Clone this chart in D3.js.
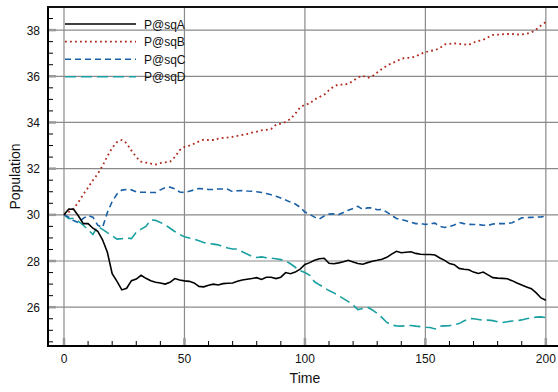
<!DOCTYPE html>
<html><head><meta charset="utf-8">
<script src="https://cdn.jsdelivr.net/npm/d3@7"></script>
<style>body{margin:0;background:#fff;} svg{display:block;font-family:"Liberation Sans",Arial,sans-serif;}</style>
</head><body><svg id="c" width="558" height="392"></svg>
<script>
const time = d3.range(0, 201, 2);
const seriesNames = ["P@sqA", "P@sqB", "P@sqC", "P@sqD"];
const sqA = [30.0,30.25,30.24,29.95,29.62,29.62,29.42,29.29,28.92,28.38,27.45,27.12,26.75,26.82,27.15,27.22,27.38,27.25,27.15,27.08,27.05,27.0,27.08,27.24,27.18,27.14,27.12,27.05,26.9,26.88,26.95,27.0,26.96,27.02,27.04,27.05,27.12,27.18,27.21,27.24,27.28,27.2,27.3,27.3,27.24,27.3,27.5,27.45,27.52,27.65,27.85,27.93,28.03,28.1,28.12,27.9,27.88,27.92,27.97,28.03,27.96,27.89,27.86,27.93,27.99,28.03,28.08,28.16,28.3,28.42,28.36,28.38,28.4,28.33,28.29,28.28,28.28,28.26,28.13,28.03,27.89,27.84,27.68,27.64,27.62,27.52,27.46,27.52,27.4,27.28,27.26,27.25,27.23,27.15,27.05,26.96,26.88,26.8,26.62,26.4,26.3];
const sqB = [30.0,30.12,30.27,30.55,30.88,31.18,31.5,31.77,32.12,32.54,32.9,33.15,33.24,33.1,32.78,32.5,32.3,32.26,32.22,32.18,32.24,32.27,32.3,32.5,32.8,32.94,33.0,33.08,33.18,33.26,33.24,33.24,33.3,33.33,33.35,33.38,33.42,33.46,33.5,33.56,33.6,33.66,33.68,33.72,33.9,33.95,34.02,34.15,34.38,34.65,34.77,34.82,35.0,35.1,35.2,35.4,35.56,35.65,35.63,35.68,35.8,35.95,36.02,35.93,36.0,36.16,36.32,36.46,36.56,36.65,36.76,36.8,36.8,36.86,36.97,37.04,37.1,37.13,37.22,37.38,37.4,37.43,37.4,37.38,37.36,37.46,37.53,37.58,37.69,37.79,37.8,37.82,37.83,37.83,37.81,37.81,37.84,37.9,38.03,38.2,38.35];
const sqC = [30.0,29.9,29.75,29.66,29.85,29.97,29.9,29.55,29.45,30.1,30.58,30.9,31.07,31.1,31.08,31.0,30.98,30.98,30.97,30.97,31.08,31.18,31.2,31.13,30.99,30.97,31.02,31.08,31.14,31.12,31.1,31.1,31.12,31.12,31.11,31.0,31.04,31.05,31.03,31.02,31.0,30.97,30.92,30.87,30.8,30.73,30.64,30.55,30.47,30.33,30.12,30.02,29.9,29.82,29.95,30.03,30.04,30.01,30.1,30.2,30.28,30.37,30.23,30.3,30.3,30.22,30.23,30.12,29.98,29.84,29.8,29.74,29.68,29.62,29.62,29.58,29.62,29.64,29.5,29.45,29.5,29.56,29.67,29.62,29.59,29.58,29.58,29.55,29.54,29.6,29.62,29.62,29.62,29.66,29.76,29.87,29.88,29.89,29.9,29.91,29.94];
const sqD = [30.0,29.83,29.85,29.72,29.55,29.35,29.15,29.5,29.37,29.23,29.1,28.95,28.97,29.0,28.97,29.25,29.38,29.5,29.78,29.76,29.67,29.57,29.42,29.28,29.15,29.05,29.0,28.95,28.88,28.8,28.76,28.73,28.7,28.62,28.56,28.52,28.52,28.4,28.3,28.2,28.15,28.18,28.14,28.12,28.1,28.06,28.0,27.88,27.73,27.58,27.5,27.38,27.1,26.97,26.85,26.72,26.62,26.5,26.37,26.24,26.1,25.9,25.94,26.0,25.88,25.73,25.55,25.34,25.23,25.19,25.18,25.2,25.21,25.18,25.16,25.13,25.12,25.06,25.18,25.19,25.2,25.24,25.29,25.4,25.51,25.5,25.47,25.44,25.44,25.42,25.37,25.34,25.37,25.4,25.41,25.45,25.5,25.54,25.57,25.58,25.55];
const xTicks = [0, 50, 100, 150, 200];
const yTicks = [26, 28, 30, 32, 34, 36, 38];
const xLabel = "Time", yLabel = "Population";

const svg = d3.select("#c");
const L = 48, R = 558, T = 7, B = 346;
const x = d3.scaleLinear().domain([-6.64, 205.05]).range([L, R]);
const y = d3.scaleLinear().domain([24.32, 39.0]).range([B, T]);

// grid
const g = svg.append("g");
g.selectAll(".vg").data(xTicks).join("line")
  .attr("x1", d => x(d)).attr("x2", d => x(d)).attr("y1", T).attr("y2", B)
  .attr("stroke", "#8a8a8a").attr("stroke-width", 1.2);
g.selectAll(".hg").data(yTicks).join("line")
  .attr("x1", L).attr("x2", R).attr("y1", d => y(d)).attr("y2", d => y(d))
  .attr("stroke", "#8a8a8a").attr("stroke-width", 1.2);

// series
const styles = [
  {data: sqA, color: "#000000", dash: null, w: 1.6},
  {data: sqB, color: "#b02a1e", dash: "1.8,3.2", w: 1.8},
  {data: sqC, color: "#1a60a6", dash: "6,4", w: 1.6},
  {data: sqD, color: "#1aa0a0", dash: "11,5", w: 1.6}
];
const line = d3.line().x((d, i) => x(time[i])).y(d => y(d));
styles.slice().reverse().forEach(s => {
  svg.append("path").attr("d", line(s.data)).attr("fill", "none")
    .attr("stroke", s.color).attr("stroke-width", s.w)
    .attr("stroke-dasharray", s.dash);
});

// axes with custom ticks
const ax = svg.append("g");
// minor y ticks
const yMinor = d3.range(24.5, 39.01, 0.5).filter(v => !yTicks.includes(v));
ax.selectAll(".ym").data(yMinor).join("line")
  .attr("x1", L).attr("x2", L + 5).attr("y1", d => y(d)).attr("y2", d => y(d))
  .attr("stroke", "#000").attr("stroke-width", 1);
ax.selectAll(".yM").data(yTicks).join("line")
  .attr("x1", L).attr("x2", L + 8).attr("y1", d => y(d)).attr("y2", d => y(d))
  .attr("stroke", "#999").attr("stroke-width", 2.5);
const xMinor = d3.range(10, 205, 10).filter(v => !xTicks.includes(v));
ax.selectAll(".xm").data(xMinor).join("line")
  .attr("x1", d => x(d)).attr("x2", d => x(d)).attr("y1", B).attr("y2", B - 5)
  .attr("stroke", "#000").attr("stroke-width", 1);
ax.selectAll(".xM").data(xTicks).join("line")
  .attr("x1", d => x(d)).attr("x2", d => x(d)).attr("y1", B).attr("y2", B - 8)
  .attr("stroke", "#999").attr("stroke-width", 2.5);
// axis lines
ax.append("line").attr("x1", L).attr("x2", L).attr("y1", T - 1).attr("y2", B + 1)
  .attr("stroke", "#000").attr("stroke-width", 2);
ax.append("line").attr("x1", L - 1).attr("x2", R).attr("y1", B).attr("y2", B)
  .attr("stroke", "#000").attr("stroke-width", 2);
ax.append("line").attr("x1", L - 1).attr("x2", R).attr("y1", T).attr("y2", T)
  .attr("stroke", "#111").attr("stroke-width", 2);

// tick labels
ax.selectAll(".yl").data(yTicks).join("text")
  .attr("x", 40).attr("y", d => y(d) + 4.5).attr("text-anchor", "end")
  .attr("font-size", 12).attr("fill", "#111").text(d => d);
ax.selectAll(".xl").data(xTicks).join("text")
  .attr("x", d => x(d)).attr("y", 363).attr("text-anchor", "middle")
  .attr("font-size", 12).attr("fill", "#111").text(d => d);
svg.append("text").attr("x", x(100)).attr("y", 383).attr("text-anchor", "middle")
  .attr("font-size", 14).attr("fill", "#111").text(xLabel);
svg.append("text").attr("transform", `translate(20,${(T + B) / 2}) rotate(-90)`)
  .attr("text-anchor", "middle").attr("font-size", 14).attr("fill", "#111").text(yLabel);

// legend
const lg = svg.append("g");
styles.forEach((s, i) => {
  const yy = 24 + i * 17.6;
  lg.append("line").attr("x1", 65).attr("x2", 136).attr("y1", yy).attr("y2", yy)
    .attr("stroke", s.color).attr("stroke-width", s.w).attr("stroke-dasharray", s.dash);
  lg.append("text").attr("x", 144).attr("y", yy + 4.5).attr("font-size", 12)
    .attr("fill", "#111").text(seriesNames[i]);
});
</script></body></html>
